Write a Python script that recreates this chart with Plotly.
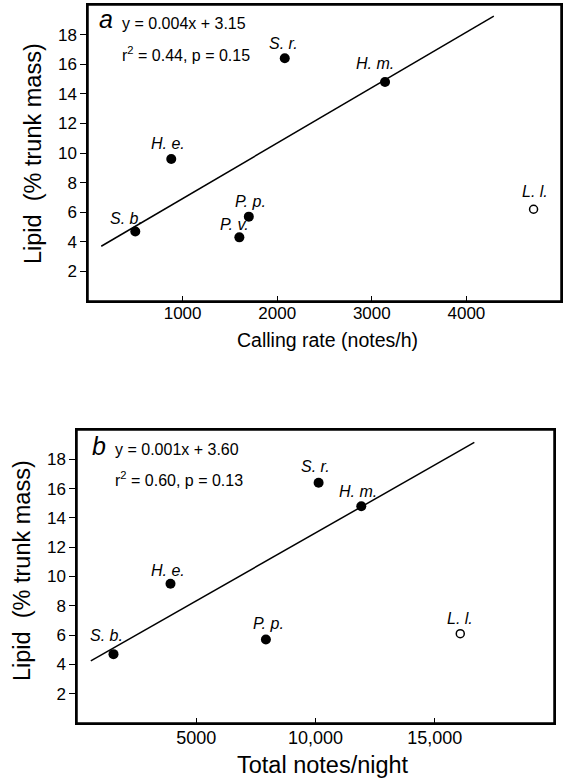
import plotly.graph_objects as go

# ---- data ----
species = ["S. b.", "H. e.", "P. p.", "P. v.", "S. r.", "H. m."]
rate_a = [500, 880, 1700, 1600, 2080, 3140]
lipid_a = [4.7, 9.6, 5.7, 4.3, 16.4, 14.8]
outlier_name = "L. l."
outlier_rate = 4710
outlier_lipid_a = 6.2
fit_a_x = [140, 4290]
fit_a_y = [3.7, 19.25]

species_b = ["S. b.", "H. e.", "P. p.", "S. r.", "H. m."]
notes_b = [1530, 3920, 7920, 10130, 11920]
lipid_b = [4.7, 9.5, 5.7, 16.4, 14.8]
outlier_notes = 16070
outlier_lipid_b = 6.1
fit_b_x = [580, 16660]
fit_b_y = [4.24, 19.15]

ticks_a_x = [1000, 2000, 3000, 4000]
ticks_b_x = [5000, 10000, 15000]
ticklabels_b_x = ["5000", "10,000", "15,000"]
ticks_y = [2, 4, 6, 8, 10, 12, 14, 16, 18]

FONT = "Liberation Sans, Arial, Helvetica, sans-serif"
W, H = 563, 782

fig = go.Figure()

# panel a
fig.add_trace(go.Scatter(x=fit_a_x, y=fit_a_y, mode="lines",
                         line=dict(color="black", width=1.5), xaxis="x", yaxis="y"))
fig.add_trace(go.Scatter(x=rate_a, y=lipid_a, mode="markers",
                         marker=dict(color="black", size=10), xaxis="x", yaxis="y"))
fig.add_trace(go.Scatter(x=[outlier_rate], y=[outlier_lipid_a], mode="markers",
                         marker=dict(color="white", size=8, line=dict(color="black", width=1.5)),
                         xaxis="x", yaxis="y"))
# panel b
fig.add_trace(go.Scatter(x=fit_b_x, y=fit_b_y, mode="lines",
                         line=dict(color="black", width=1.5), xaxis="x2", yaxis="y2"))
fig.add_trace(go.Scatter(x=notes_b, y=lipid_b, mode="markers",
                         marker=dict(color="black", size=10), xaxis="x2", yaxis="y2"))
fig.add_trace(go.Scatter(x=[outlier_notes], y=[outlier_lipid_b], mode="markers",
                         marker=dict(color="white", size=8, line=dict(color="black", width=1.5)),
                         xaxis="x2", yaxis="y2"))

def px(x):
    return x / W

def py(y):
    return 1 - y / H

# panel boxes in pixels (left, right, top, bottom)
box_a = (88, 561, 5, 301)
box_b = (77, 554, 430, 723)

common_x = dict(showgrid=False, zeroline=False, showline=True, linecolor="black",
                linewidth=1.5, mirror=True,
                ticks="inside", ticklen=5, tickwidth=1.2, tickcolor="black")
common_y = dict(showgrid=False, zeroline=False, showline=True, linecolor="black",
                linewidth=1.5, mirror=True,
                ticks="outside", ticklen=6, tickwidth=1.2, tickcolor="black",
                tickfont=dict(family=FONT, size=17, color="black"),
                tickvals=ticks_y, range=[0, 20])

fig.update_layout(
    width=W, height=H, margin=dict(l=0, r=0, t=0, b=0),
    paper_bgcolor="white", plot_bgcolor="rgba(0,0,0,0)", showlegend=False,
    xaxis=dict(common_x, domain=[px(box_a[0]), px(box_a[1])], range=[0, 5000],
               tickvals=ticks_a_x, anchor="y", ticklabelstandoff=-4,
               tickfont=dict(family=FONT, size=17, color="black")),
    yaxis=dict(common_y, domain=[py(box_a[3]), py(box_a[2])], anchor="x"),
    xaxis2=dict(common_x, domain=[px(box_b[0]), px(box_b[1])], range=[0, 20000],
                tickvals=ticks_b_x, ticktext=ticklabels_b_x, anchor="y2",
                ticklabelstandoff=-2,
                tickfont=dict(family=FONT, size=18, color="black")),
    yaxis2=dict(common_y, domain=[py(box_b[3]), py(box_b[2])], anchor="x2"),
    shapes=[
        dict(type="rect", xref="paper", yref="paper",
             x0=px(b[0]), x1=px(b[1]), y0=py(b[3]), y1=py(b[2]),
             line=dict(color="black", width=1.5), layer="above")
        for b in (box_a, box_b)
    ],
)

ann = []
label_font = dict(family=FONT, size=16, color="black")
C = dict(showarrow=False, xanchor="center", yanchor="middle")
offs_a = [(-9, 13), (-3, 15), (2, 15), (-5, 13), (-1, 15), (-10, 18)]
for name, x, y, (dx, dy) in zip(species, rate_a, lipid_a, offs_a):
    ann.append(dict(C, x=x, y=y, xref="x", yref="y", text=f"<i>{name}</i>",
                    xshift=dx, yshift=dy, font=label_font))
ann.append(dict(C, x=outlier_rate, y=outlier_lipid_a, xref="x", yref="y",
                text=f"<i>{outlier_name}</i>", xshift=1, yshift=18, font=label_font))
offs_b = [(-7, 19), (-2, 13), (3, 16), (-3, 16), (-3, 15)]
for name, x, y, (dx, dy) in zip(species_b, notes_b, lipid_b, offs_b):
    ann.append(dict(C, x=x, y=y, xref="x2", yref="y2", text=f"<i>{name}</i>",
                    xshift=dx, yshift=dy, font=label_font))
ann.append(dict(C, x=outlier_notes, y=outlier_lipid_b, xref="x2", yref="y2",
                text=f"<i>{outlier_name}</i>", xshift=0, yshift=15, font=label_font))

eq_font = dict(family=FONT, size=16, color="black")
L = dict(showarrow=False, xanchor="left", yanchor="middle")
ann += [
    dict(C, x=px(106), y=py(19), xref="paper", yref="paper", text="<i>a</i>",
         font=dict(family=FONT, size=25, color="black")),
    dict(L, x=px(120), y=py(24), xref="paper", yref="paper", text="y = 0.004x + 3.15",
         font=eq_font),
    dict(L, x=px(120), y=py(54), xref="paper", yref="paper", text="r<sup>2</sup> = 0.44, p = 0.15",
         font=eq_font),
    dict(C, x=px(99), y=py(446), xref="paper", yref="paper", text="<i>b</i>",
         font=dict(family=FONT, size=25, color="black")),
    dict(L, x=px(113), y=py(449), xref="paper", yref="paper", text="y = 0.001x + 3.60",
         font=eq_font),
    dict(L, x=px(113), y=py(479), xref="paper", yref="paper", text="r<sup>2</sup> = 0.60, p = 0.13",
         font=eq_font),
]

ytitle = "Lipid&nbsp; (% trunk mass)"
ann += [
    dict(C, x=px(33), y=py(154), xref="paper", yref="paper", text=ytitle,
         textangle=-90, font=dict(family=FONT, size=23.5, color="black")),
    dict(C, x=px(22), y=py(571), xref="paper", yref="paper", text=ytitle,
         textangle=-90, font=dict(family=FONT, size=23.5, color="black")),
    dict(C, x=px(327), y=py(340), xref="paper", yref="paper", text="Calling rate (notes/h)",
         font=dict(family=FONT, size=19.5, color="black")),
    dict(C, x=px(323), y=py(765), xref="paper", yref="paper", text="Total notes/night",
         font=dict(family=FONT, size=23.5, color="black")),
]
fig.update_layout(annotations=ann)

fig.write_html("out.html")
